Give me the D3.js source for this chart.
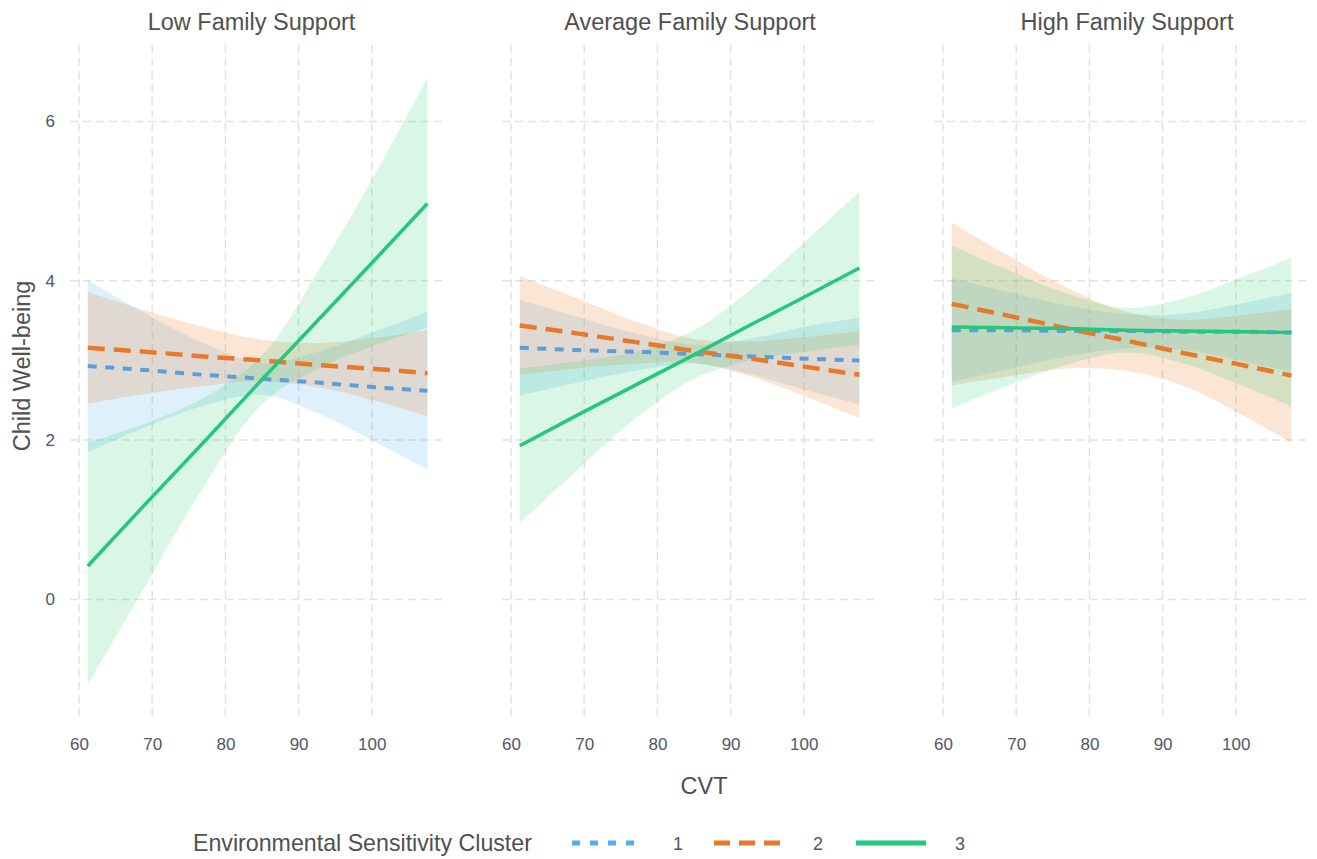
<!DOCTYPE html>
<html>
<head>
<meta charset="utf-8">
<script src="https://d3js.org/d3.v7.min.js"></script>
<style>
  body { margin: 0; background: #ffffff; }
  text { font-family: "Liberation Sans", Arial, Helvetica, sans-serif; }
</style>
</head>
<body>
<svg id="chart" width="1317" height="859"></svg>
<script>
// ---------------- DATA ----------------
const panelTitles = ["Low Family Support", "Average Family Support", "High Family Support"];
const clusters = ["1", "2", "3"];
const cvtPoints = [61.2, 69, 77, 85, 93, 101, 107.6];
const xTicks = [60, 70, 80, 90, 100];
const yTicks = [0, 2, 4, 6];

// Low Family Support
const blueFitLow   = [2.93, 2.88, 2.82, 2.77, 2.72, 2.66, 2.62];
const blueLoLow    = [1.85, 2.16, 2.43, 2.57, 2.32, 1.95, 1.63];
const blueUpLow    = [4.01, 3.59, 3.22, 2.97, 3.12, 3.38, 3.61];
const orangeFitLow = [3.16, 3.11, 3.05, 3.00, 2.94, 2.89, 2.84];
const orangeLoLow  = [2.46, 2.58, 2.68, 2.74, 2.66, 2.48, 2.30];
const orangeUpLow  = [3.86, 3.63, 3.42, 3.26, 3.22, 3.29, 3.38];
const greenFitLow  = [0.42, 1.19, 1.97, 2.76, 3.54, 4.32, 4.97];
const greenLoLow   = [-1.07, 0.16, 1.41, 2.45, 2.91, 3.21, 3.41];
const greenUpLow   = [1.97, 2.21, 2.53, 3.06, 4.17, 5.43, 6.55];

// Average Family Support
const blueFitAvg   = [3.16, 3.13, 3.11, 3.08, 3.05, 3.02, 3.00];
const blueLoAvg    = [2.56, 2.72, 2.87, 2.96, 2.82, 2.61, 2.45];
const blueUpAvg    = [3.76, 3.55, 3.34, 3.20, 3.28, 3.44, 3.54];
const orangeFitAvg = [3.44, 3.34, 3.23, 3.12, 3.02, 2.91, 2.82];
const orangeLoAvg  = [2.82, 2.90, 2.96, 2.97, 2.79, 2.52, 2.28];
const orangeUpAvg  = [4.06, 3.78, 3.49, 3.27, 3.24, 3.30, 3.37];
const greenFitAvg  = [1.93, 2.31, 2.69, 3.07, 3.46, 3.84, 4.16];
const greenLoAvg   = [0.96, 1.62, 2.27, 2.77, 3.01, 3.12, 3.20];
const greenUpAvg   = [2.90, 2.99, 3.11, 3.38, 3.91, 4.56, 5.12];

// High Family Support
const blueFitHigh   = [3.38, 3.38, 3.37, 3.37, 3.36, 3.36, 3.35];
const blueLoHigh    = [2.73, 2.89, 3.05, 3.15, 3.13, 2.99, 2.85];
const blueUpHigh    = [4.03, 3.86, 3.69, 3.58, 3.59, 3.72, 3.85];
const orangeFitHigh = [3.71, 3.56, 3.40, 3.25, 3.09, 2.94, 2.81];
const orangeLoHigh  = [2.69, 2.80, 2.90, 2.87, 2.68, 2.31, 1.97];
const orangeUpHigh  = [4.73, 4.31, 3.91, 3.61, 3.51, 3.57, 3.65];
const greenFitHigh  = [3.42, 3.41, 3.40, 3.38, 3.37, 3.36, 3.35];
const greenLoHigh   = [2.40, 2.69, 2.95, 3.10, 2.96, 2.68, 2.42];
const greenUpHigh   = [4.44, 4.13, 3.84, 3.66, 3.78, 4.05, 4.29];

// -------------- build table --------------
const seriesTable = [
  [ {fit: blueFitLow, lo: blueLoLow, up: blueUpLow},
    {fit: orangeFitLow, lo: orangeLoLow, up: orangeUpLow},
    {fit: greenFitLow, lo: greenLoLow, up: greenUpLow} ],
  [ {fit: blueFitAvg, lo: blueLoAvg, up: blueUpAvg},
    {fit: orangeFitAvg, lo: orangeLoAvg, up: orangeUpAvg},
    {fit: greenFitAvg, lo: greenLoAvg, up: greenUpAvg} ],
  [ {fit: blueFitHigh, lo: blueLoHigh, up: blueUpHigh},
    {fit: orangeFitHigh, lo: orangeLoHigh, up: orangeUpHigh},
    {fit: greenFitHigh, lo: greenLoHigh, up: greenUpHigh} ]
];

// -------------- styles --------------
const fillColor = {"1": "#56B4E9", "2": "#EE8A3C", "3": "#2BCB7A"};
const fillOpacity = {"1": 0.2, "2": 0.22, "3": 0.18};
const lineColor = {"1": "#5b9edb", "2": "#E8792B", "3": "#25C77A"};
const lineDash = {"1": "9,8.5", "2": "17,9", "3": null};
const lineWidth = {"1": 4, "2": 4.5, "3": 3.5};
const titleShift = [-5, 1.5, 6.5];

const svg = d3.select("#chart");
const panelTop = 45, panelBottom = 717;
const panelW = 373, panelStep = 432, panelLeft0 = 70;

const y = d3.scaleLinear().domain([-1.476, 6.96]).range([panelBottom, panelTop]);
const gridColor = "#e2e2e2";
const tickColor = "#4e5768";
const textColor = "#505050";

panelTitles.forEach((title, pi) => {
  const left = panelLeft0 + pi * panelStep;
  const x = d3.scaleLinear().domain([58.77, 109.73]).range([left, left + panelW]);
  const g = svg.append("g");

  // grid
  g.selectAll(".hgrid").data(yTicks).enter().append("line")
    .attr("x1", left).attr("x2", left + panelW)
    .attr("y1", d => y(d)).attr("y2", d => y(d))
    .attr("stroke", gridColor).attr("stroke-width", 1.5).attr("stroke-dasharray", "8,5");
  g.selectAll(".vgrid").data(xTicks).enter().append("line")
    .attr("x1", d => x(d)).attr("x2", d => x(d))
    .attr("y1", panelTop).attr("y2", panelBottom)
    .attr("stroke", gridColor).attr("stroke-width", 1.5).attr("stroke-dasharray", "8,5");

  // x axis labels
  const xa = g.append("g").attr("transform", `translate(0,${panelBottom})`)
    .call(d3.axisBottom(x).tickValues(xTicks).tickSize(0).tickPadding(21));
  xa.select(".domain").remove();
  xa.selectAll("text").attr("font-size", 17).attr("fill", tickColor)
    .attr("font-family", "'Liberation Sans', Arial, sans-serif");

  if (pi === 0) {
    const ya = g.append("g").attr("transform", `translate(${left},0)`)
      .call(d3.axisLeft(y).tickValues(yTicks).tickSize(0).tickPadding(15));
    ya.select(".domain").remove();
    ya.selectAll("text").attr("font-size", 17).attr("fill", tickColor)
      .attr("font-family", "'Liberation Sans', Arial, sans-serif");
  }

  // bands
  const area = d3.area()
    .x(d => x(d.cvt)).y0(d => y(d.lo)).y1(d => y(d.up))
    .curve(d3.curveCatmullRom.alpha(0.5));
  const line = d3.line().x(d => x(d.cvt)).y(d => y(d.fit));

  const rows = seriesTable[pi].map((s, si) => ({
    key: clusters[si],
    pts: cvtPoints.map((c, k) => ({cvt: c, fit: s.fit[k], lo: s.lo[k], up: s.up[k]}))
  }));

  g.selectAll(".band").data(rows).enter().append("path")
    .attr("d", r => area(r.pts))
    .attr("fill", r => fillColor[r.key])
    .attr("fill-opacity", r => fillOpacity[r.key])
    .attr("stroke", "none");

  g.selectAll(".fit").data(rows).enter().append("path")
    .attr("d", r => line(r.pts))
    .attr("fill", "none")
    .attr("stroke", r => lineColor[r.key])
    .attr("stroke-width", r => lineWidth[r.key])
    .attr("stroke-dasharray", r => lineDash[r.key]);

  // strip title
  g.append("text").attr("x", left + panelW / 2 + titleShift[pi]).attr("y", 30)
    .attr("text-anchor", "middle").attr("font-size", 23.5).attr("fill", textColor)
    .text(title);
});

// axis titles
svg.append("text").attr("x", 704).attr("y", 794).attr("text-anchor", "middle")
  .attr("font-size", 23.5).attr("fill", textColor).text("CVT");
svg.append("text").attr("transform", "translate(30,366) rotate(-90)")
  .attr("text-anchor", "middle").attr("font-size", 23.5).attr("fill", textColor)
  .text("Child Well-being");

// legend
const legY = 843;
svg.append("text").attr("x", 193).attr("y", legY + 8).attr("font-size", 23.2)
  .attr("fill", textColor).text("Environmental Sensitivity Cluster");
const legendKeys = [
  {key: "1", x1: 572, x2: 644, lx: 678},
  {key: "2", x1: 714, x2: 784, lx: 818},
  {key: "3", x1: 856, x2: 926, lx: 960}
];
const lg = svg.append("g");
lg.selectAll("line").data(legendKeys).enter().append("line")
  .attr("x1", d => d.x1).attr("x2", d => d.x2).attr("y1", legY).attr("y2", legY)
  .attr("stroke", d => d.key === "1" ? "#4fb0ee" : lineColor[d.key])
  .attr("stroke-width", 5)
  .attr("stroke-dasharray", d => d.key === "1" ? "8,10" : (d.key === "2" ? "16,9" : null));
lg.selectAll("text").data(legendKeys).enter().append("text")
  .attr("x", d => d.lx).attr("y", legY + 7).attr("text-anchor", "middle")
  .attr("font-size", 18).attr("fill", tickColor).text(d => d.key);
</script>
</body>
</html>
